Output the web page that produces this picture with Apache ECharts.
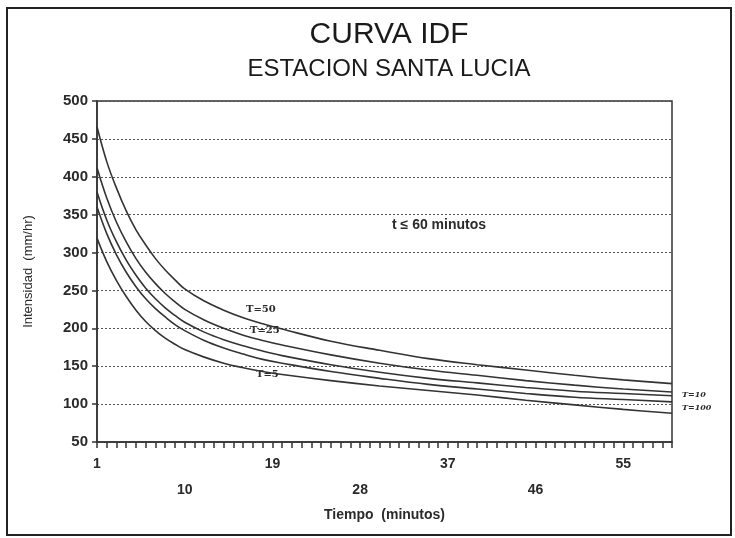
<!DOCTYPE html>
<html>
  <head>
    <meta charset="UTF-8" />
    <title>Curva IDF</title>
    <script src="https://cdn.jsdelivr.net/npm/echarts@6/dist/echarts.min.js"></script>
  </head>
  <body style="margin:0">
    <div id="idfChart" style="width: 735px; height: 538px"></div>
  </body>
  <script>
    // minutes 1..60 on the x axis
    let minutes = [];
    for (let m = 1; m <= 60; m++) minutes.push(String(m));

    // points
    let times = [1, 2, 3, 4, 5, 6, 7, 8, 9, 10, 12, 14, 16, 18, 20, 25, 30, 35, 40, 45, 50, 55, 60];
    let t50 = [466, 420, 385, 355, 330, 310, 292, 277, 264, 252, 236, 224, 214, 206, 199, 183, 171, 160, 152, 145, 138, 132, 127];
    let t25 = [412, 372, 340, 314, 292, 274, 259, 246, 235, 225, 211, 200, 191, 184, 178, 165, 154, 145, 138, 131, 125, 120, 116];
    let t10 = [380, 343, 314, 290, 270, 253, 239, 227, 217, 208, 195, 185, 177, 170, 164, 152, 142, 134, 128, 122, 117, 114, 111];
    let t100 = [360, 325, 297, 274, 255, 239, 226, 215, 205, 197, 184, 174, 166, 159, 154, 143, 134, 126, 120, 114, 109, 106, 103];
    let t5 = [319, 288, 263, 242, 224, 209, 197, 187, 179, 172, 162, 154, 148, 143, 139, 131, 124, 118, 112, 105, 99, 93, 88];

    let yTicks = [50, 500, 50]; // min, max, step

    let ink = '#2a2a2a';
    let font = '"Liberation Sans", Arial, sans-serif';

    function curve(name, vals) {
      return {
        name: name,
        type: 'line',
        smooth: 0.4,
        showSymbol: false,
        data: times.map((t, i) => [String(t), vals[i]]),
        lineStyle: { color: '#333', width: 1.6 },
      };
    }

    let myChart = echarts.init(document.getElementById('idfChart'));

    myChart.setOption({
      backgroundColor: '#fff',
      animation: false,
      textStyle: { fontFamily: font, color: ink },
      grid: {
        left: 97, right: 63, top: 101, bottom: 96,
        show: true, borderColor: '#333', borderWidth: 1.5,
      },
      xAxis: {
        type: 'category',
        data: minutes,
        boundaryGap: false,
        name: 'Tiempo  (minutos)',
        nameLocation: 'middle',
        nameGap: 62,
        nameTextStyle: { fontSize: 14, fontWeight: 'bold', color: ink },
        axisLine: { lineStyle: { color: '#333', width: 1.5 } },
        axisTick: { interval: 0, length: 6, lineStyle: { color: '#333', width: 1.5 } },
        axisLabel: {
          interval: 8,
          margin: 9,
          fontSize: 14,
          fontWeight: 'bold',
          color: ink,
          lineHeight: 26,
          formatter: (v, i) => ((i / 9) % 2 ? '\n' + v : v),
        },
        splitLine: { show: false },
      },
      yAxis: {
        type: 'value',
        min: yTicks[0],
        max: yTicks[1],
        interval: yTicks[2],
        name: 'Intensidad  (mm/hr)',
        nameLocation: 'middle',
        nameGap: 62,
        nameTextStyle: { fontSize: 13, color: ink },
        axisLine: { show: true, lineStyle: { color: '#333', width: 1.5 } },
        axisTick: { show: true, length: 5, lineStyle: { color: '#333', width: 1.5 } },
        axisLabel: { fontSize: 15, fontWeight: 'bold', color: ink, margin: 9 },
        splitLine: { lineStyle: { color: '#555', type: [2, 2], width: 1 } },
      },
      graphic: [
        { type: 'rect', shape: { x: 7, y: 8, width: 724, height: 527 },
          style: { fill: 'none', stroke: '#222', lineWidth: 2 } },
        { type: 'text', x: 389, y: 20,
          style: { text: 'CURVA IDF', fontSize: 30, fontFamily: font, fill: '#1a1a1a', textAlign: 'center' } },
        { type: 'text', x: 389, y: 57,
          style: { text: 'ESTACION SANTA LUCIA', fontSize: 24, fontFamily: font, fill: '#1a1a1a', textAlign: 'center' } },
        { type: 'text', x: 392, y: 218,
          style: { text: 't ≤ 60 minutos', fontSize: 14, fontWeight: 'bold', fontFamily: font, fill: ink } },
        { type: 'text', x: 246, y: 304,
          style: { text: 'T=50', fontSize: 10, fontWeight: 'bold', fontFamily: 'DejaVu Serif', fill: ink } },
        { type: 'text', x: 250, y: 325,
          style: { text: 'T=25', fontSize: 10, fontWeight: 'bold', fontFamily: 'DejaVu Serif', fill: ink } },
        { type: 'text', x: 256, y: 369,
          style: { text: 'T=5', fontSize: 10, fontWeight: 'bold', fontFamily: 'DejaVu Serif', fill: ink } },
        { type: 'text', x: 682, y: 391,
          style: { text: 'T=10', fontSize: 8, fontWeight: 'bold', fontStyle: 'italic', fontFamily: 'DejaVu Serif', fill: ink } },
        { type: 'text', x: 682, y: 404,
          style: { text: 'T=100', fontSize: 8, fontWeight: 'bold', fontStyle: 'italic', fontFamily: 'DejaVu Serif', fill: ink } },
      ],
      series: [
        curve('T=50', t50),
        curve('T=25', t25),
        curve('T=10', t10),
        curve('T=100', t100),
        curve('T=5', t5),
      ],
    });
  </script>
</html>
